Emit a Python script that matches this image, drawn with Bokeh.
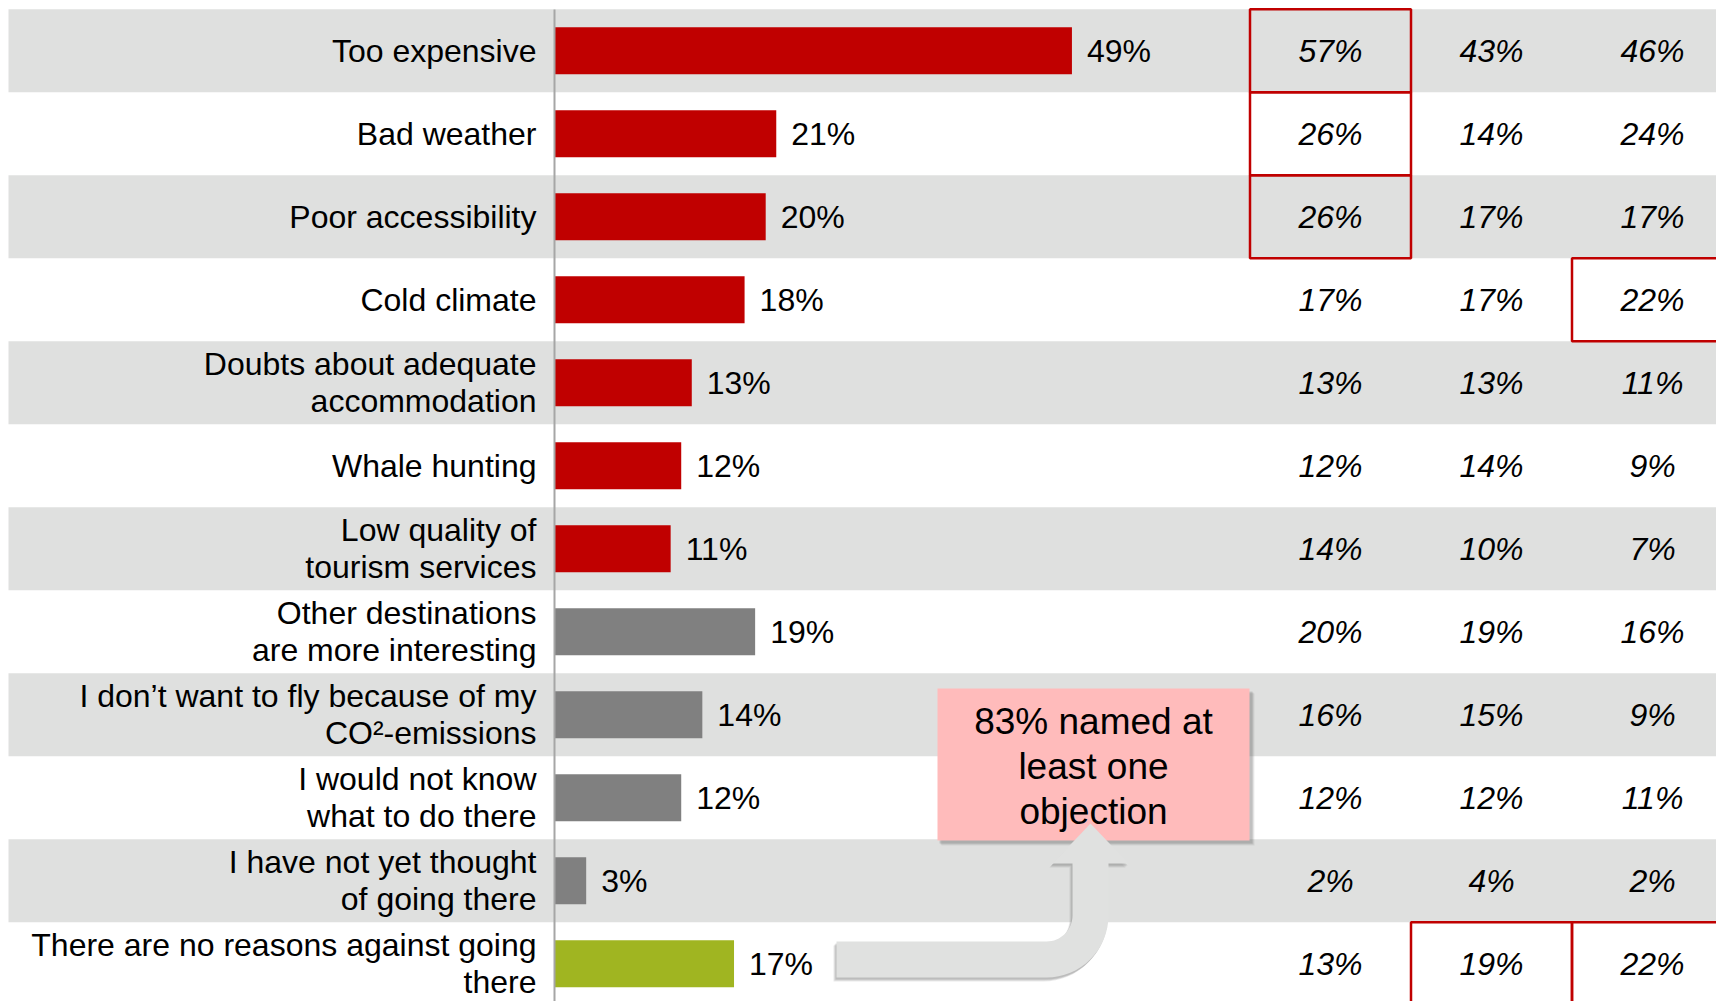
import math
from bokeh.plotting import figure
from bokeh.models import Range1d, ColumnDataSource
from bokeh.core.properties import value
from bokeh.embed import file_html
from bokeh.resources import INLINE

# ---------------- data ----------------
categories = [
    "Too expensive",
    "Bad weather",
    "Poor accessibility",
    "Cold climate",
    "Doubts about adequate\naccommodation",
    "Whale hunting",
    "Low quality of\ntourism services",
    "Other destinations\nare more interesting",
    "I don\u2019t want to fly because of my\nCO\u00b2-emissions",
    "I would not know\nwhat to do there",
    "I have not yet thought\nof going there",
    "There are no reasons against going\nthere",
]
total = [49, 21, 20, 18, 13, 12, 11, 19, 14, 12, 3, 17]
group = ["objection"] * 7 + ["other"] * 4 + ["none"]
col_a = [57, 26, 26, 17, 13, 12, 14, 20, 16, 12, 2, 13]
col_b = [43, 14, 17, 17, 13, 14, 10, 19, 15, 12, 4, 19]
col_c = [46, 24, 17, 22, 11, 9, 7, 16, 9, 11, 2, 22]
# highlighted cells: (column index, row index)
highlights = [(0, 0), (0, 1), (0, 2), (2, 3), (1, 11), (2, 11)]
callout = "83% named at\nleast one\nobjection"

# ---------------- layout (page pixels -> data) ----------------
W, H = 1716, 1001
X0_PAGE = 554.0          # page x of the 0 % line
PX_PER_PCT = 10.56
ROW_TOP = 8.75           # page y of the top of the first row
ROW_PX = 83.0


def xd(px):
    return (px - X0_PAGE) / PX_PER_PCT


def yd(py):
    return (py - ROW_TOP) / ROW_PX - 0.5


group_color = {"objection": "#C00000", "other": "#808080", "none": "#A0B521"}
BAND = "#DFE0DF"
FONT = "Liberation Sans"

p = figure(width=W, height=H, output_backend="svg", toolbar_location=None,
           x_range=Range1d(xd(0), xd(W)),
           y_range=Range1d(yd(H), yd(0)),
           min_border=0)
p.axis.visible = False
p.grid.visible = False
p.outline_line_color = None
p.background_fill_color = "white"
p.border_fill_color = "white"

rows = list(range(len(categories)))

# alternating bands
band_rows = [r for r in rows if r % 2 == 0]
p.hbar(y=band_rows, left=xd(8), right=xd(W + 20), height=1,
       fill_color=BAND, line_color=None)

# bars
src = ColumnDataSource(dict(
    y=rows, v=total,
    color=[group_color[g] for g in group],
    lab=[f"{v}%" for v in total],
    lx=[v + 15 / PX_PER_PCT for v in total],
    cat=categories,
))
p.hbar(y="y", left=0, right="v", height=0.565, fill_color="color",
       line_color=None, source=src)

# axis line
p.segment(x0=0, x1=0, y0=yd(9), y1=yd(W), line_color="#A6A6A6", line_width=2)

# category labels
p.text(x=xd(536), y="y", text="cat", source=src, text_align="right",
       text_baseline="middle", text_font=value(FONT), text_font_size="32px",
       text_line_height=1.04, text_color="black")

# value labels
p.text(x="lx", y="y", text="lab", source=src, text_align="left",
       text_baseline="middle", text_font=value(FONT), text_font_size="32px",
       text_color="black")

# table columns
col_centers_px = [1330, 1491, 1652]
COL_W_PX = 161
for cx, col in zip(col_centers_px, [col_a, col_b, col_c]):
    p.text(x=xd(cx), y=rows, text=[f"{v}%" for v in col], text_align="center",
           text_baseline="middle", text_font=value(FONT), text_font_size="32px",
           text_font_style="italic", text_color="black")

# highlight boxes
hl_left = [xd(col_centers_px[c] - COL_W_PX / 2) for c, r in highlights]
hl_right = [xd(col_centers_px[c] + COL_W_PX / 2) for c, r in highlights]
hl_top = [r - 0.5 for c, r in highlights]
hl_bot = [r + 0.5 for c, r in highlights]
p.quad(left=hl_left, right=hl_right, top=hl_top, bottom=hl_bot,
       fill_alpha=0, line_color="#C00000", line_width=2.5)

# ---------------- callout box ----------------
bx0, bx1, by0, by1 = 937, 1249, 688, 840
for off, alpha in [(5, 0.10), (4, 0.15), (3, 0.2)]:
    p.quad(left=xd(bx0 + off - 1), right=xd(bx1 + off), top=yd(by0 + off), bottom=yd(by1 + off),
           fill_color="#606060", fill_alpha=alpha, line_color=None)
p.quad(left=xd(bx0), right=xd(bx1), top=yd(by0), bottom=yd(by1),
       fill_color="#FFBBBB", line_color=None)
p.text(x=xd((bx0 + bx1) / 2), y=yd(766), text=[callout], text_align="center",
       text_baseline="middle", text_font=value(FONT), text_font_size="37px",
       text_line_height=1.09, text_color="black")


# ---------------- arrow ----------------
def arrow_poly(dx=0.0, dy=0.0):
    cx, cy = 1046, 915
    r_in, r_out = 26, 62
    pts = [(836, 941)]
    n = 16
    for i in range(n + 1):
        a = math.pi / 2 * (1 - i / n)
        pts.append((cx + r_in * math.cos(a), cy + r_in * math.sin(a)))
    pts += [(1072, 863), (1052, 863), (1090, 823), (1128, 863), (1108, 863), (1108, 915)]
    for i in range(n + 1):
        a = math.pi / 2 * (i / n)
        pts.append((cx + r_out * math.cos(a), cy + r_out * math.sin(a)))
    pts.append((836, 977))
    xs = [xd(x + dx) for x, _ in pts]
    ys = [yd(y + dy) for _, y in pts]
    return xs, ys


for (ox, oy, al) in [(-3, 4, 0.18), (-2, 3, 0.25), (-1, 2, 0.3)]:
    sx, sy = arrow_poly(ox, oy)
    p.patch(sx, sy, fill_color="#8A8A8A", fill_alpha=al, line_color=None)
ax_, ay_ = arrow_poly()
p.patch(ax_, ay_, fill_color="#E0E1E0", line_color=None)

open("out.html", "w").write(file_html(p, INLINE))
